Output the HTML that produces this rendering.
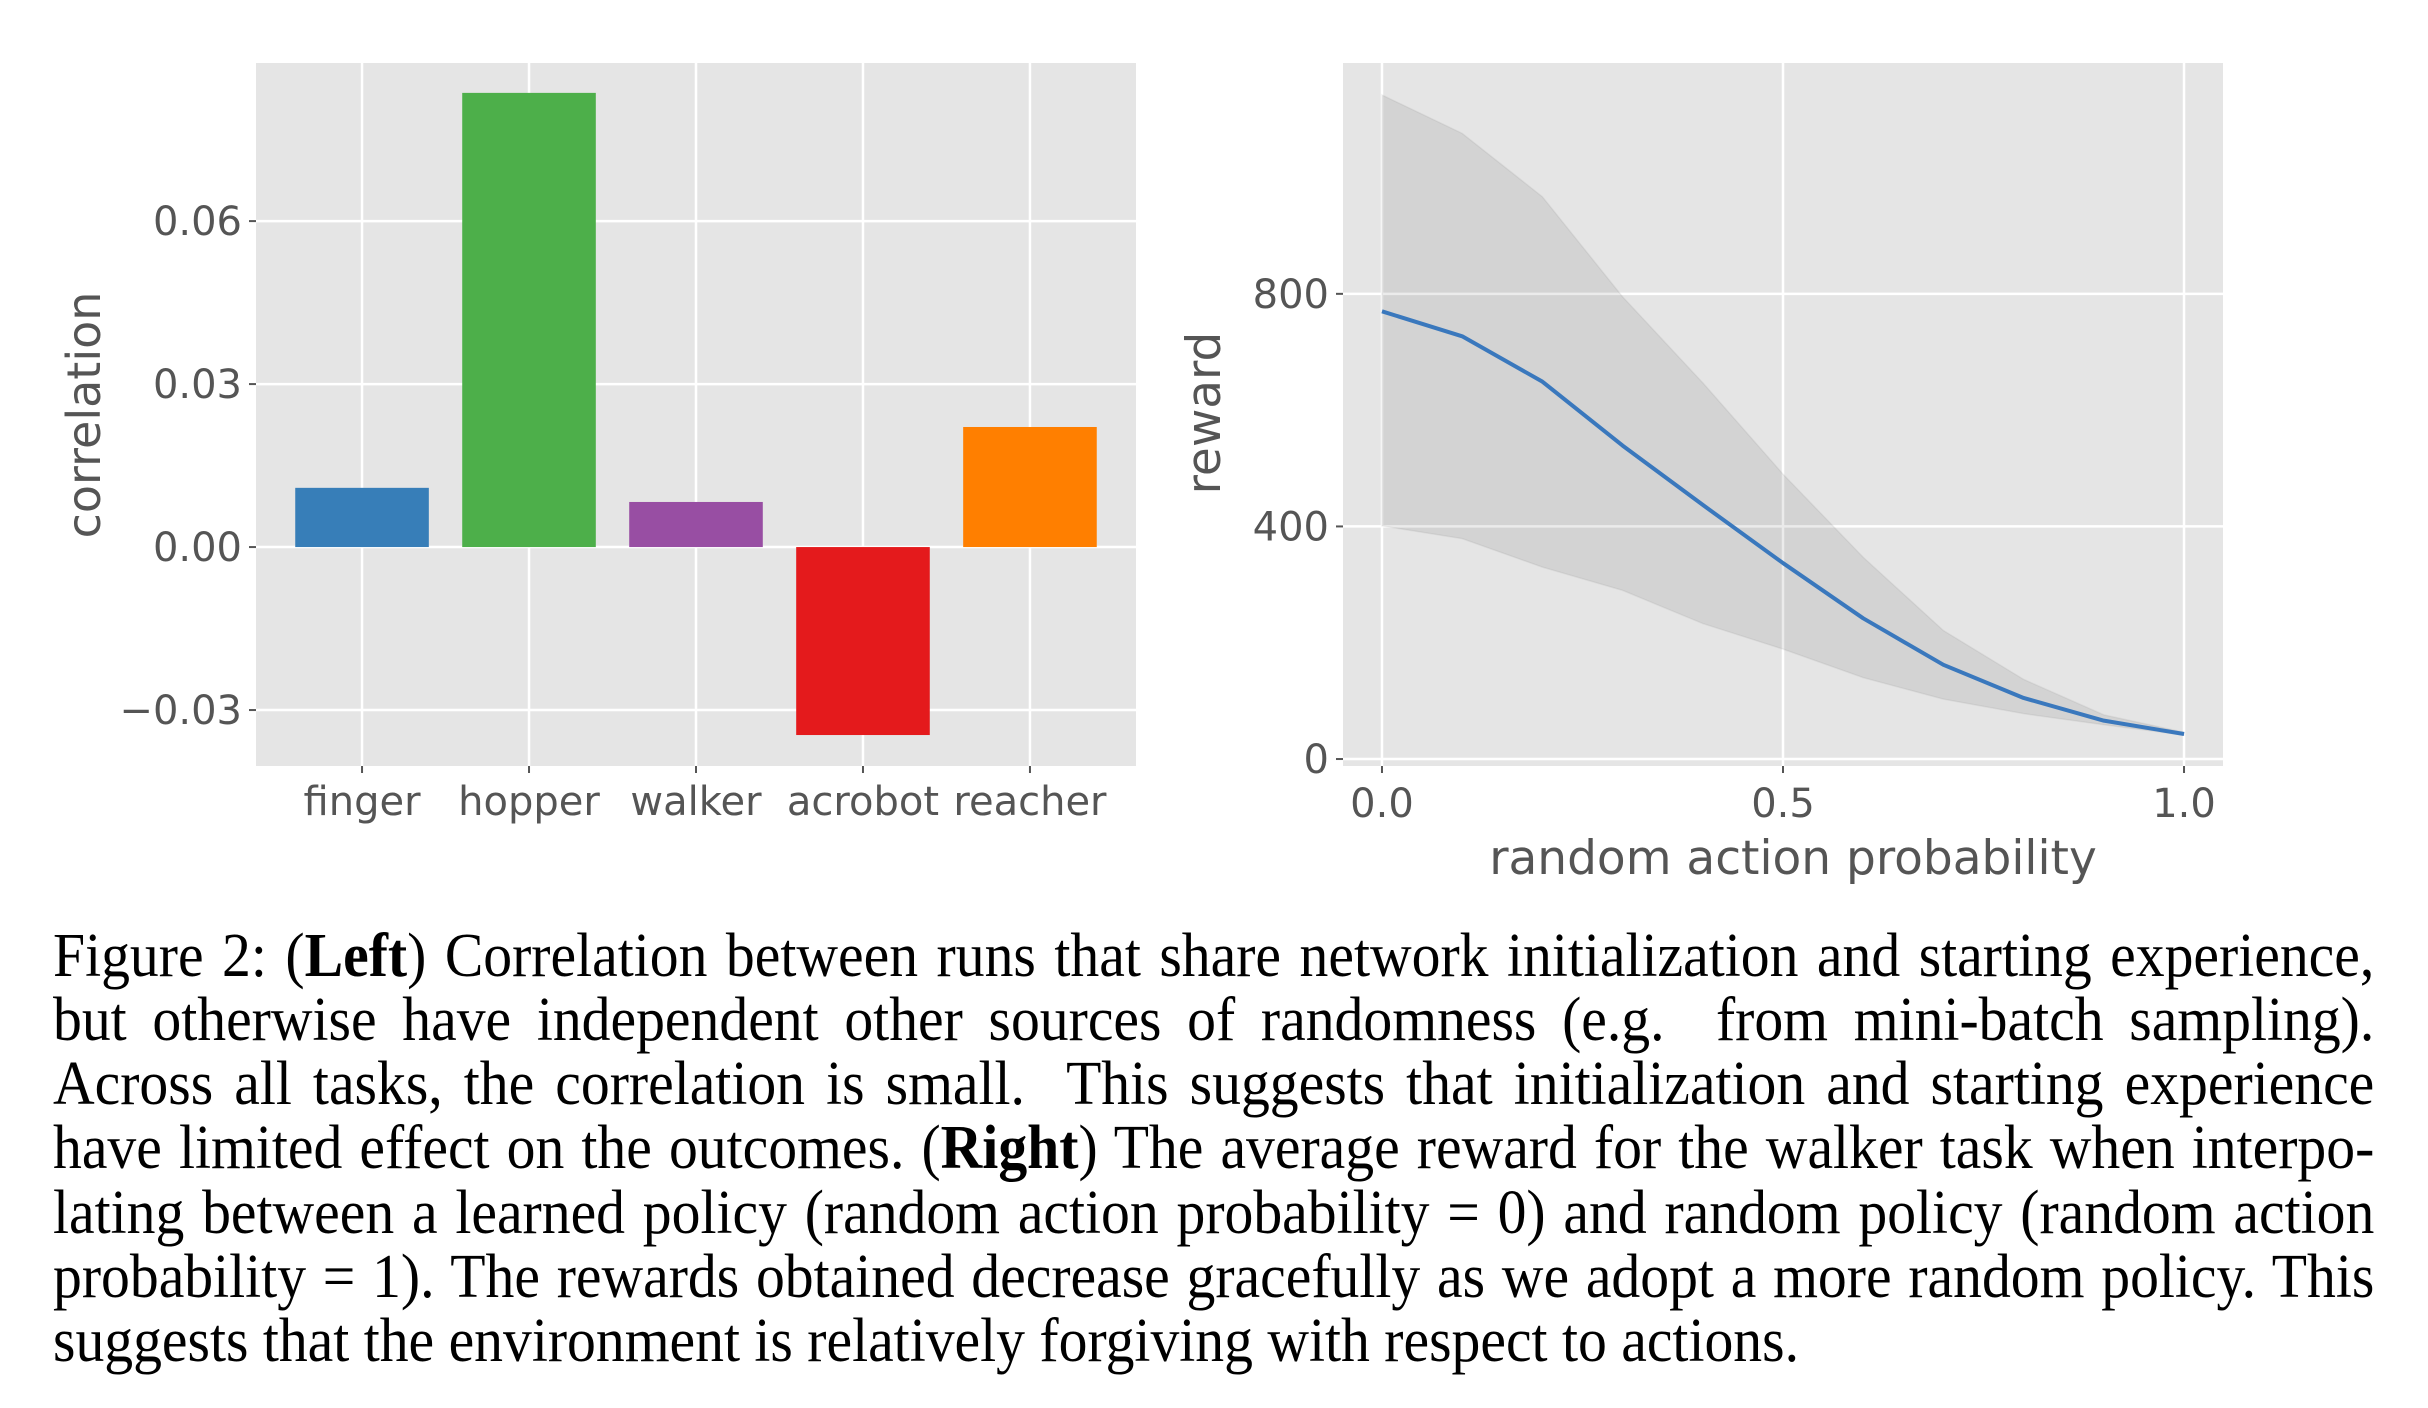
<!DOCTYPE html>
<html><head><meta charset="utf-8"><style>
html,body{margin:0;padding:0;background:#fff;width:2428px;height:1408px;overflow:hidden;position:relative}
.cap{position:absolute;left:53px;font-family:"Liberation Serif",serif;font-size:62px;line-height:62px;color:#000;white-space:nowrap;transform-origin:0 0;transform:scaleX(0.93);width:2496px;text-align:justify;text-align-last:justify}
.cap.last{text-align:left;text-align-last:left}
</style></head><body>
<svg id="chart" width="2428" height="900" style="position:absolute;left:0;top:0" font-family="DejaVu Sans, sans-serif"></svg>
<div class="cap" style="top:925px">Figure 2: (<b>Left</b>) Correlation between runs that share network initialization and starting experience,</div>
<div class="cap" style="top:989px">but otherwise have independent other sources of randomness (e.g.&nbsp; from mini-batch sampling).</div>
<div class="cap" style="top:1053px">Across all tasks, the correlation is small.&nbsp; This suggests that initialization and starting experience</div>
<div class="cap" style="top:1117px">have limited effect on the outcomes. (<b>Right</b>) The average reward for the walker task when interpo-</div>
<div class="cap" style="top:1182px">lating between a learned policy (random action probability = 0) and random policy (random action</div>
<div class="cap" style="top:1246px">probability = 1). The rewards obtained decrease gracefully as we adopt a more random policy. This</div>
<div class="cap last" style="top:1310px">suggests that the environment is relatively forgiving with respect to actions.</div>
<script>
const barCategories = ["finger","hopper","walker","acrobot","reacher"];
const barValues = [0.0109, 0.0836, 0.0083, -0.0346, 0.0221];
const barColors = ["#377eb8","#4daf4a","#984ea3","#e41a1c","#ff7f00"];
const barYTicks = [-0.03, 0.00, 0.03, 0.06];
const barYTickLabels = ["\u22120.03","0.00","0.03","0.06"];
const probX = [0,0.1,0.2,0.3,0.4,0.5,0.6,0.7,0.8,0.9,1.0];
const rewardMean = [770,727,649,539,437,337,242,162,105,66,43];
const rewardUpper = [1142,1076,967,795,647,490,347,221,137,76,46];
const rewardLower = [401,379,330,290,233,189,140,103,78,59,41];
const lineXTicks = [0,0.5,1.0];
const lineXTickLabels = ["0.0","0.5","1.0"];
const lineYTicks = [0,400,800];
const lineYTickLabels = ["0","400","800"];

const svg = document.getElementById('chart');
const NS = 'http://www.w3.org/2000/svg';
function mk(tag, attrs, parent){const e=document.createElementNS(NS,tag);for(const k in attrs)e.setAttribute(k,attrs[k]);(parent||svg).appendChild(e);return e;}

const L = {x0:256,x1:1136,y0:63,y1:766,dmin:-0.0403,dmax:0.0891};
const bx = i => L.x0 + (i+0.635)/5.27*(L.x1-L.x0);
const by = v => L.y1 - (v-L.dmin)/(L.dmax-L.dmin)*(L.y1-L.y0);
let e = mk('rect',{x:L.x0,y:L.y0,width:L.x1-L.x0,height:L.y1-L.y0,fill:'#e5e5e5'});
 
barYTicks.forEach((t,i)=>{
  const y=by(t);
  e=mk('line',{x1:L.x0,x2:L.x1,y1:y,y2:y,stroke:'#fff','stroke-width':2.5});
   
  mk('line',{x1:L.x0-7,x2:L.x0,y1:y,y2:y,stroke:'#555','stroke-width':2});
  e=mk('text',{x:L.x0-14,y:y+14,'text-anchor':'end','font-size':40,fill:'#555'}); e.textContent=barYTickLabels[i];
   
});
barCategories.forEach((c,i)=>{
  const x=bx(i);
  e=mk('line',{x1:x,x2:x,y1:L.y0,y2:L.y1,stroke:'#fff','stroke-width':2.5});
   
});
barCategories.forEach((c,i)=>{
  const x=bx(i), w=0.8/5.27*(L.x1-L.x0);
  const v=barValues[i], ya=by(Math.max(v,0)), yb=by(Math.min(v,0));
  e=mk('rect',{x:x-w/2,y:ya,width:w,height:yb-ya,fill:barColors[i]});
   
  mk('line',{x1:x,x2:x,y1:L.y1,y2:L.y1+7,stroke:'#555','stroke-width':2});
  e=mk('text',{x:x,y:815,'text-anchor':'middle','font-size':40,fill:'#555'}); e.textContent=c;
   
});
e=mk('text',{x:0,y:0,transform:'translate(100,415) rotate(-90)','text-anchor':'middle','font-size':46,fill:'#555'}); e.textContent='correlation';
 

const R = {x0:1343,x1:2223,y0:63,y1:766,xmin:-0.0486,xmax:1.0486,ymin:-12,ymax:1197};
const rx = v => R.x0 + (v-R.xmin)/(R.xmax-R.xmin)*(R.x1-R.x0);
const ry = v => R.y1 - (v-R.ymin)/(R.ymax-R.ymin)*(R.y1-R.y0);
e=mk('rect',{x:R.x0,y:R.y0,width:R.x1-R.x0,height:R.y1-R.y0,fill:'#e5e5e5'});
 
lineYTicks.forEach((t,i)=>{
  const y=ry(t);
  e=mk('line',{x1:R.x0,x2:R.x1,y1:y,y2:y,stroke:'#fff','stroke-width':2.5});
   
  mk('line',{x1:R.x0-7,x2:R.x0,y1:y,y2:y,stroke:'#555','stroke-width':2});
  e=mk('text',{x:R.x0-14,y:y+14,'text-anchor':'end','font-size':40,fill:'#555'}); e.textContent=lineYTickLabels[i];
   
});
lineXTicks.forEach((t,i)=>{
  const x=rx(t);
  e=mk('line',{x1:x,x2:x,y1:R.y0,y2:R.y1,stroke:'#fff','stroke-width':2.5});
   
  mk('line',{x1:x,x2:x,y1:R.y1,y2:R.y1+7,stroke:'#555','stroke-width':2});
  e=mk('text',{x:x,y:817,'text-anchor':'middle','font-size':40,fill:'#555'}); e.textContent=lineXTickLabels[i];
   
});
let band = probX.map((p,i)=>rx(p)+','+ry(rewardUpper[i]));
for(let i=probX.length-1;i>=0;i--) band.push(rx(probX[i])+','+ry(rewardLower[i]));
e=mk('polygon',{points:band.join(' '),fill:'#000','fill-opacity':0.08,stroke:'#000','stroke-opacity':0.05,'stroke-width':1.5});
 
e=mk('polyline',{points:probX.map((p,i)=>rx(p)+','+ry(rewardMean[i])).join(' '),fill:'none',stroke:'#3a78bd','stroke-width':4,'stroke-linejoin':'round'});
 
e=mk('text',{x:1793,y:874,'text-anchor':'middle','font-size':47,fill:'#555'}); e.textContent='random action probability';
 
e=mk('text',{x:0,y:0,transform:'translate(1220,413) rotate(-90)','text-anchor':'middle','font-size':47,fill:'#555'}); e.textContent='reward';
 
</script>
</body></html>
